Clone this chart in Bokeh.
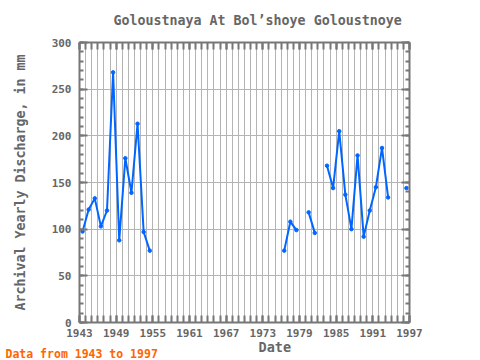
import numpy as np
from bokeh.plotting import figure
from bokeh.models import LinearAxis, FixedTicker, Range1d, Title
from bokeh.embed import file_html
from bokeh.resources import INLINE

# ---- data ----
years = list(range(1943, 1997))
discharge = [
    97.5, 121, 133, 103, 120, 268, 88, 176, 139, 213, 97, 77,          # 1943-1954
    np.nan, np.nan, np.nan, np.nan, np.nan, np.nan, np.nan, np.nan,    # 1955-1962
    np.nan, np.nan, np.nan, np.nan, np.nan, np.nan, np.nan, np.nan,    # 1963-1970
    np.nan, np.nan, np.nan, np.nan, np.nan,                            # 1971-1975
    77, 108, 99, np.nan, 118, 96, np.nan,                              # 1976-1982
    168, 144, 205, 137, 100, 179, 92, 120, 145, 187, 134,              # 1983-1993
    np.nan, np.nan, 144,                                               # 1994-1996
]
x_tick_years = [1943, 1949, 1955, 1961, 1967, 1973, 1979, 1985, 1991, 1997]
y_ticks = [0, 50, 100, 150, 200, 250, 300]

title_text = "Goloustnaya At Bol\u2019shoye Goloustnoye"
x_label = "Date"
y_label = "Archival Yearly Discharge, in mm"
note_text = "Data from 1943 to 1997"

# yearly values are plotted at mid-year
xs = [y + 0.5 for y in years]

FONT = "DejaVu Sans Mono"
GREY = "#666666"
FRAME = "#777777"

p = figure(width=480, height=360, output_backend="svg", toolbar_location=None,
           x_range=Range1d(1943, 1997), y_range=Range1d(0, 300),
           min_border_left=79, min_border_right=71, min_border_top=42, min_border_bottom=38)
p.outline_line_color = None
p.background_fill_color = "white"
p.border_fill_color = "white"

bottom = p.below[0]
left = p.left[0]
top = LinearAxis()
right = LinearAxis()
p.add_layout(top, "above")
p.add_layout(right, "right")

# grids
p.xgrid.ticker = FixedTicker(ticks=list(range(1943, 1998)))
p.ygrid.ticker = FixedTicker(ticks=y_ticks)
p.xgrid.grid_line_color = "#b4b4b4"
p.ygrid.grid_line_color = "#b4b4b4"

x_ticker = FixedTicker(ticks=x_tick_years, minor_ticks=list(range(1943, 1998)))
y_ticker = FixedTicker(ticks=y_ticks, minor_ticks=list(range(0, 301, 10)))

for ax in [bottom, top]:
    ax.ticker = x_ticker
    ax.major_tick_in = 7
    ax.minor_tick_in = 7
for ax in [left, right]:
    ax.ticker = y_ticker
    ax.major_tick_in = 8
    ax.minor_tick_in = 4

for ax in [bottom, top, left, right]:
    ax.major_tick_out = 0
    ax.minor_tick_out = 0
    ax.axis_line_color = FRAME
    ax.axis_line_width = 2
    ax.major_tick_line_color = FRAME
    ax.minor_tick_line_color = FRAME
    ax.major_tick_line_width = 2
    ax.minor_tick_line_width = 2
    ax.major_label_text_font = FONT
    ax.major_label_text_font_style = "bold"
    ax.major_label_text_font_size = "11px"
    ax.major_label_text_color = GREY

for ax in [top, right]:
    ax.major_label_text_color = None
    ax.major_label_text_font_size = "0px"
    ax.major_label_standoff = 0

bottom.major_label_standoff = 6
left.major_label_standoff = 8

# y label
left.axis_label = y_label
left.axis_label_text_font = FONT
left.axis_label_text_font_style = "bold"
left.axis_label_text_font_size = "13.3px"
left.axis_label_text_color = GREY
left.axis_label_standoff = 21

# title (with a blank spacer between it and the frame)
spacer = Title(text=" ", text_font_size="10px", standoff=1)
p.add_layout(spacer, "above")
p.title.text = title_text
p.title.align = "left"
p.title.offset = 34
p.title.vertical_align = "middle"
p.title.standoff = 0
p.title.text_font = FONT
p.title.text_font_style = "bold"
p.title.text_font_size = "13.3px"
p.title.text_color = GREY

# x label and note as titles below
date_title = Title(text=x_label, align="left", offset=179, vertical_align="bottom",
                   text_font=FONT, text_font_style="bold", text_font_size="13.5px",
                   text_color=GREY, standoff=-5)
note_title = Title(text=note_text, align="left", offset=-74, vertical_align="bottom",
                   text_font=FONT, text_font_style="bold", text_font_size="11.5px",
                   text_color="#ff6600", standoff=-15)
p.add_layout(date_title, "below")
p.add_layout(note_title, "below")

# data line
p.line(xs, discharge, line_color="#0066ff", line_width=2)
p.scatter(xs, discharge, size=3.5, marker="circle", fill_color="#0066ff", line_color="#0066ff")

open("out.html", "w").write(file_html(p, INLINE))
